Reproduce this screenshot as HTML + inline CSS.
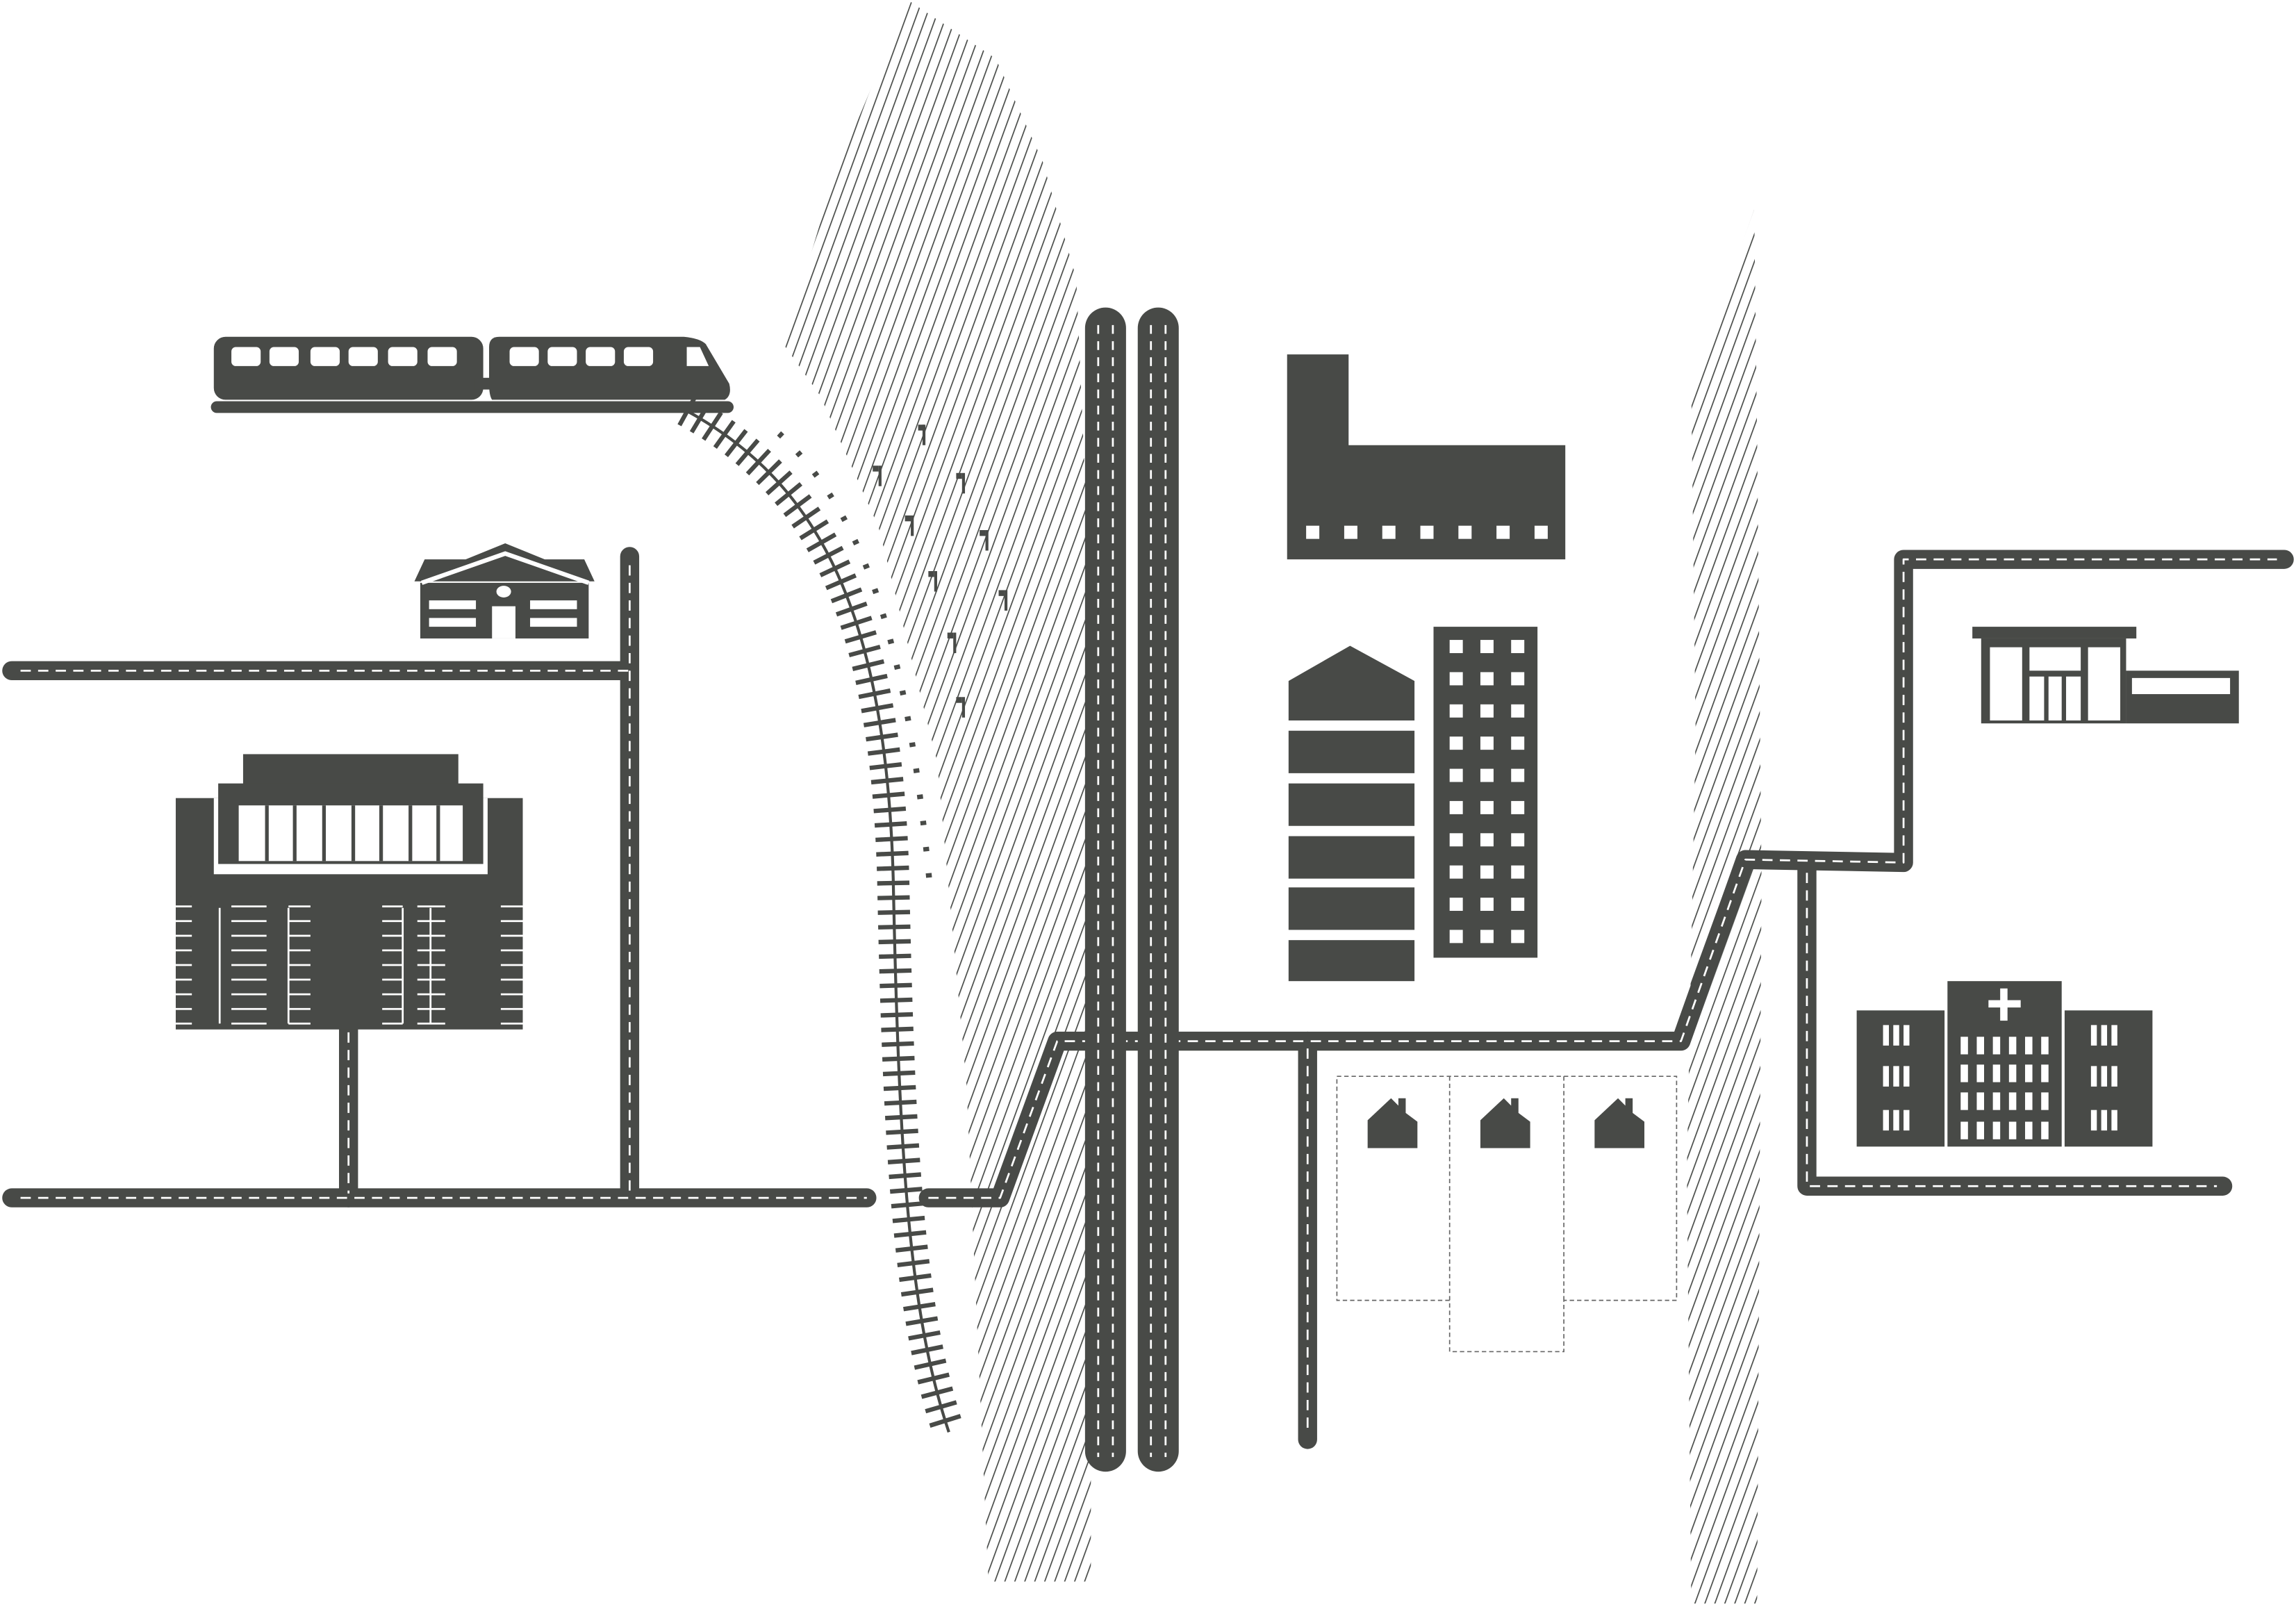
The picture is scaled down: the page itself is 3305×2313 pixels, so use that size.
<!DOCTYPE html>
<html><head><meta charset="utf-8"><style>html,body{margin:0;padding:0;background:#fff}svg{display:block}</style></head>
<body>
<svg width="3305" height="2313" viewBox="0 0 1568 1097.4" xmlns="http://www.w3.org/2000/svg">
<defs>
<pattern id="h" width="6.4" height="20" patternUnits="userSpaceOnUse" patternTransform="rotate(20)">
<line x1="3" y1="0" x2="3" y2="20" stroke="#474a47" stroke-width="0.8"/>
</pattern>
</defs>
<g fill="#484a47">
<!-- hatching -->
<polygon fill="url(#h)" points="620,0 680,40 712,110 735,190 745,420 745,1080 675,1080 660,740 640,520 600,360 560,270 535,235 570,120"/>
<polygon fill="url(#h)" points="1198,143 1200,300 1203,600 1200,1095 1155,1095 1152,800 1158,500 1155,265"/>

<!-- roads -->
<g fill="none" stroke-linecap="round" stroke-linejoin="round">
<g stroke="#484a47" stroke-width="13">
<path d="M8,458 H430 M430,380 V815"/>
<path d="M8,818 H592"/>
<path d="M634,818 H683 L722,711 H1148 L1192,587 L1300,589 V382 H1560"/>
<path d="M238,700 V818"/>
<path d="M893,711 V983"/>
<path d="M1234,592 V810 H1518"/>
</g>
<g stroke="#fff" stroke-width="1.3" stroke-dasharray="7,5" stroke-linecap="butt">
<path d="M14,458 H430 M430,386 V815"/>
<path d="M14,818 H592"/>
<path d="M634,818 H683 L722,711 H1148 L1192,587 L1300,589 V382 H1555"/>
<path d="M238,705 V815"/>
<path d="M893,716 V980"/>
<path d="M1234,596 V810 H1514"/>
</g>
</g>
<!-- vertical double roads -->
<rect x="741" y="210" width="28" height="795" rx="14"/>
<rect x="777" y="210" width="28" height="795" rx="14"/>
<g stroke="#fff" stroke-width="1.3" stroke-dasharray="6,5" fill="none">
<path d="M750,222 V995 M760,222 V995 M786,222 V995 M796,222 V995"/>
</g>

<!-- railway -->
<path d="M468,280 C560,330 605,420 610,600 C614,800 622,900 648,978" fill="none" stroke="#484a47" stroke-width="2"/>
<path d="M468,280 C560,330 605,420 610,600 C614,800 622,900 648,978" fill="none" stroke="#484a47" stroke-width="22" stroke-dasharray="3,7"/>
<path d="M532,296 C590,350 620,440 635,605" fill="none" stroke="#484a47" stroke-width="4" stroke-dasharray="3,15"/>
<!-- flags -->
<g>
<rect x="630" y="290" width="2" height="14"/><rect x="627" y="290" width="4" height="4"/>
<rect x="600" y="318" width="2" height="14"/><rect x="596" y="318" width="4" height="4"/>
<rect x="657" y="323" width="2" height="14"/><rect x="653" y="323" width="4" height="4"/>
<rect x="622" y="352" width="2" height="14"/><rect x="618" y="352" width="4" height="4"/>
<rect x="673" y="362" width="2" height="14"/><rect x="669" y="362" width="4" height="4"/>
<rect x="638" y="390" width="2" height="14"/><rect x="634" y="390" width="4" height="4"/>
<rect x="686" y="403" width="2" height="14"/><rect x="682" y="403" width="4" height="4"/>
<rect x="651" y="432" width="2" height="14"/><rect x="647" y="432" width="4" height="4"/>
<rect x="657" y="476" width="2" height="14"/><rect x="653" y="476" width="4" height="4"/>
</g>

<!-- train -->
<rect x="144" y="274" width="357" height="8" rx="4"/>
<rect x="146" y="230" width="184" height="43" rx="8"/>
<rect x="324" y="258" width="12" height="8"/>
<path d="M334,237 Q334,230 341,230 H467 Q478,231 482,235 L498,262 Q500,270 495,273 H336 Q334,270 334,262 Z"/>
<g fill="#fff">
<rect x="158" y="237" width="20" height="13" rx="3"/><rect x="184" y="237" width="20" height="13" rx="3"/><rect x="212" y="237" width="20" height="13" rx="3"/><rect x="238" y="237" width="20" height="13" rx="3"/><rect x="265" y="237" width="20" height="13" rx="3"/><rect x="292" y="237" width="20" height="13" rx="3"/>
<rect x="348" y="237" width="20" height="13" rx="3"/><rect x="374" y="237" width="20" height="13" rx="3"/><rect x="400" y="237" width="20" height="13" rx="3"/><rect x="426" y="237" width="20" height="13" rx="3"/>
<path d="M469,237 H478 L484,250 H469 Z"/>
</g>

<!-- house left -->
<path d="M283,397 L290,382 H318 L345,371 L372,382 H399 L406,397 Z"/>
<rect x="287" y="398" width="115" height="38"/>
<path d="M288,398 L345,378 L402,398" fill="none" stroke="#fff" stroke-width="3"/>
<g fill="#fff"><rect x="293" y="410" width="32" height="6"/><rect x="293" y="422" width="32" height="6"/><rect x="362" y="410" width="32" height="6"/><rect x="362" y="422" width="32" height="6"/><rect x="336" y="414" width="16" height="22"/><ellipse cx="344" cy="404" rx="5" ry="4"/></g>

<!-- mall -->
<rect x="166" y="515" width="147" height="30"/>
<rect x="120" y="545" width="237" height="158"/>
<rect x="146" y="545" width="187" height="52" fill="#fff"/>
<rect x="149" y="535" width="181" height="55"/>
<rect x="163" y="550" width="153" height="38" fill="#fff"/>
<g>
<rect x="181" y="550" width="2.5" height="38"/><rect x="200" y="550" width="2.5" height="38"/><rect x="220" y="550" width="2.5" height="38"/><rect x="240" y="550" width="2.5" height="38"/><rect x="259" y="550" width="2.5" height="38"/><rect x="279" y="550" width="2.5" height="38"/><rect x="298" y="550" width="2.5" height="38"/>
</g>
<g stroke="#fff" stroke-width="1.3">
<path d="M120,619 H164 M120,639 H164 M120,659 H164 M120,679 H164 M120,699 H164 M120,629 H164 M120,649 H164 M120,669 H164 M120,689 H164" stroke-dasharray="11,34"/>
<path d="M318,619 H357 M318,629 H357 M318,639 H357 M318,649 H357 M318,659 H357 M318,669 H357 M318,679 H357 M318,689 H357 M318,699 H357" stroke-dasharray="0,24,14"/>
<path d="M150,620 V699 M197,620 V699 M275,620 V699 M294,620 V699"/>
<path d="M158,619 H182 M158,629 H182 M158,639 H182 M158,649 H182 M158,659 H182 M158,669 H182 M158,679 H182 M158,689 H182 M158,699 H182"/>
<path d="M197,619 H212 M197,629 H212 M197,639 H212 M197,649 H212 M197,659 H212 M197,669 H212 M197,679 H212 M197,689 H212 M197,699 H212"/>
<path d="M261,619 H275 M261,629 H275 M261,639 H275 M261,649 H275 M261,659 H275 M261,669 H275 M261,679 H275 M261,689 H275 M261,699 H275"/>
<path d="M285,619 H304 M285,629 H304 M285,639 H304 M285,649 H304 M285,659 H304 M285,669 H304 M285,679 H304 M285,689 H304 M285,699 H304"/>
</g>

<!-- factory -->
<path d="M879,242 H921 V304 H1069 V382 H879 Z"/>
<g fill="#fff"><rect x="892" y="359" width="9" height="9"/><rect x="918" y="359" width="9" height="9"/><rect x="944" y="359" width="9" height="9"/><rect x="970" y="359" width="9" height="9"/><rect x="996" y="359" width="9" height="9"/><rect x="1022" y="359" width="9" height="9"/><rect x="1048" y="359" width="9" height="9"/></g>

<!-- silo -->
<path d="M880,465 L922,441 L966,465 V492 H880 Z"/>
<rect x="880" y="499" width="86" height="29"/>
<rect x="880" y="535" width="86" height="29"/>
<rect x="880" y="571" width="86" height="29"/>
<rect x="880" y="606" width="86" height="29"/>
<rect x="880" y="642" width="86" height="28"/>

<!-- tower -->
<rect x="979" y="428" width="71" height="226"/>
<g fill="#fff">
<rect x="990" y="437" width="9" height="9"/><rect x="1011" y="437" width="9" height="9"/><rect x="1032" y="437" width="9" height="9"/>
<rect x="990" y="459" width="9" height="9"/><rect x="1011" y="459" width="9" height="9"/><rect x="1032" y="459" width="9" height="9"/>
<rect x="990" y="481" width="9" height="9"/><rect x="1011" y="481" width="9" height="9"/><rect x="1032" y="481" width="9" height="9"/>
<rect x="990" y="503" width="9" height="9"/><rect x="1011" y="503" width="9" height="9"/><rect x="1032" y="503" width="9" height="9"/>
<rect x="990" y="525" width="9" height="9"/><rect x="1011" y="525" width="9" height="9"/><rect x="1032" y="525" width="9" height="9"/>
<rect x="990" y="547" width="9" height="9"/><rect x="1011" y="547" width="9" height="9"/><rect x="1032" y="547" width="9" height="9"/>
<rect x="990" y="569" width="9" height="9"/><rect x="1011" y="569" width="9" height="9"/><rect x="1032" y="569" width="9" height="9"/>
<rect x="990" y="591" width="9" height="9"/><rect x="1011" y="591" width="9" height="9"/><rect x="1032" y="591" width="9" height="9"/>
<rect x="990" y="613" width="9" height="9"/><rect x="1011" y="613" width="9" height="9"/><rect x="1032" y="613" width="9" height="9"/>
<rect x="990" y="635" width="9" height="9"/><rect x="1011" y="635" width="9" height="9"/><rect x="1032" y="635" width="9" height="9"/>
</g>

<!-- lots -->
<g fill="none" stroke="#666" stroke-width="0.8" stroke-dasharray="3,2">
<path d="M913,735 H1145 V888 H1068 V923 H990 V888 H913 Z M990,735 V888 M1068,735 V888"/>
</g>
<path d="M934,765 L950,750 L955,755 V750 H960 V760 L968,766 V784 H934 Z"/>
<path d="M1011,765 L1027,750 L1032,755 V750 H1037 V760 L1045,766 V784 H1011 Z"/>
<path d="M1089,765 L1105,750 L1110,755 V750 H1115 V760 L1123,766 V784 H1089 Z"/>

<!-- shop -->
<rect x="1347" y="428" width="112" height="8"/>
<rect x="1353" y="436" width="99" height="58"/>
<rect x="1452" y="458" width="77" height="36"/>
<g fill="#fff"><rect x="1359" y="442" width="22" height="50"/><rect x="1386" y="442" width="35" height="16"/><rect x="1386" y="462" width="10" height="30"/><rect x="1399" y="462" width="9" height="30"/><rect x="1411" y="462" width="10" height="30"/><rect x="1426" y="442" width="22" height="50"/><rect x="1456" y="463" width="67" height="11"/></g>

<!-- hospital -->
<rect x="1268" y="690" width="60" height="93"/>
<rect x="1330" y="670" width="78" height="113"/>
<rect x="1410" y="690" width="60" height="93"/>
<g fill="#fff">
<rect x="1366" y="675" width="5" height="22"/><rect x="1358" y="683" width="22" height="5"/>
<rect x="1286" y="700" width="4" height="14"/><rect x="1293" y="700" width="4" height="14"/><rect x="1300" y="700" width="4" height="14"/>
<rect x="1286" y="728" width="4" height="14"/><rect x="1293" y="728" width="4" height="14"/><rect x="1300" y="728" width="4" height="14"/>
<rect x="1286" y="758" width="4" height="14"/><rect x="1293" y="758" width="4" height="14"/><rect x="1300" y="758" width="4" height="14"/>
<rect x="1428" y="700" width="4" height="14"/><rect x="1435" y="700" width="4" height="14"/><rect x="1442" y="700" width="4" height="14"/>
<rect x="1428" y="728" width="4" height="14"/><rect x="1435" y="728" width="4" height="14"/><rect x="1442" y="728" width="4" height="14"/>
<rect x="1428" y="758" width="4" height="14"/><rect x="1435" y="758" width="4" height="14"/><rect x="1442" y="758" width="4" height="14"/>
<rect x="1339" y="708" width="5" height="12"/><rect x="1350" y="708" width="5" height="12"/><rect x="1361" y="708" width="5" height="12"/><rect x="1372" y="708" width="5" height="12"/><rect x="1383" y="708" width="5" height="12"/><rect x="1394" y="708" width="5" height="12"/>
<rect x="1339" y="727" width="5" height="12"/><rect x="1350" y="727" width="5" height="12"/><rect x="1361" y="727" width="5" height="12"/><rect x="1372" y="727" width="5" height="12"/><rect x="1383" y="727" width="5" height="12"/><rect x="1394" y="727" width="5" height="12"/>
<rect x="1339" y="746" width="5" height="12"/><rect x="1350" y="746" width="5" height="12"/><rect x="1361" y="746" width="5" height="12"/><rect x="1372" y="746" width="5" height="12"/><rect x="1383" y="746" width="5" height="12"/><rect x="1394" y="746" width="5" height="12"/>
<rect x="1339" y="766" width="5" height="12"/><rect x="1350" y="766" width="5" height="12"/><rect x="1361" y="766" width="5" height="12"/><rect x="1372" y="766" width="5" height="12"/><rect x="1383" y="766" width="5" height="12"/><rect x="1394" y="766" width="5" height="12"/>
</g>
</g>
</svg>
</body></html>
